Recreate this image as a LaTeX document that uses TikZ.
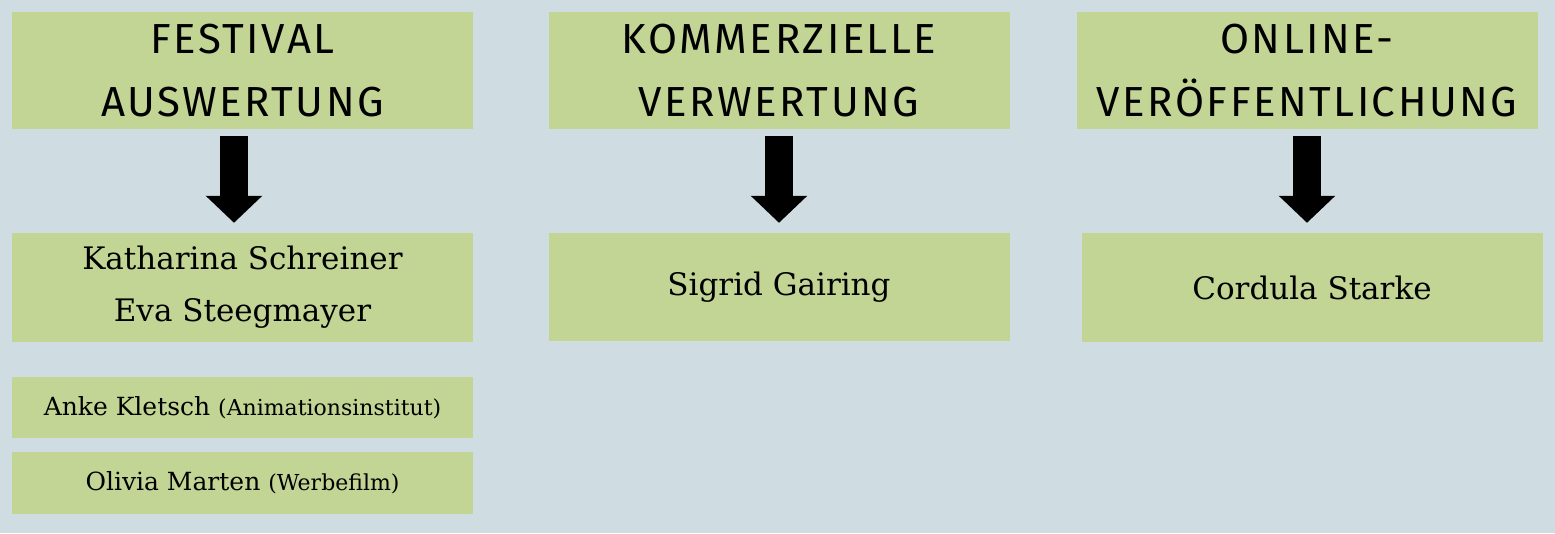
\documentclass[tikz,border=0pt]{standalone}
\usepackage{fontspec}
\setmainfont{DejaVu Serif}
\newfontfamily\headfont[LetterSpace=6]{Fira Sans}
\usetikzlibrary{arrows.meta}

\definecolor{backblue}{HTML}{CFDDE3}
\definecolor{boxgreen}{HTML}{C3D595}

\begin{document}
\begin{tikzpicture}[x=1pt,y=-1pt]

        \fill[backblue] (0,0) rectangle (1555,533);
        \useasboundingbox (0,0) rectangle (1555,533);

        \begin{scope}[every node/.style={fill=boxgreen,inner sep=0pt,align=center,minimum width=461pt}]
          \node[minimum height=117pt,font=\headfont\fontsize{42}{63}\selectfont] (fest)   at (242.5,70.5) {FESTIVAL\\AUSWERTUNG};
          \node[minimum height=117pt,font=\headfont\fontsize{42}{63}\selectfont] (komm)   at (779,70.5)   {KOMMERZIELLE\\VERWERTUNG};
          \node[minimum height=117pt,font=\headfont\fontsize{42}{63}\selectfont] (online) at (1307,70.5)  {ONLINE-\\VERÖFFENTLICHUNG};

          \node[minimum height=109pt,font=\fontsize{31}{52}\selectfont] (festnames)   at (242.5,287.5) {Katharina Schreiner\\Eva Steegmayer};
          \node[minimum height=108pt,font=\fontsize{31}{52}\selectfont] (kommnames)   at (779,287)     {Sigrid Gairing};
          \node[minimum height=109pt,font=\fontsize{31}{52}\selectfont] (onlinenames) at (1312,287.5)  {Cordula Starke};

          \node[minimum height=61pt,font=\fontsize{25}{30}\selectfont] (anke)   at (242.5,407.5) {Anke Kletsch {\fontsize{22}{26}\selectfont(Animationsinstitut)}};
          \node[minimum height=62pt,font=\fontsize{25}{30}\selectfont] (olivia) at (242.5,483)   {Olivia Marten {\fontsize{22}{26}\selectfont(Werbefilm)}};
        \end{scope}

        \begin{scope}[every path/.style={draw=black,line width=28pt,shorten <=7pt,shorten >=10pt,-{Triangle[width=55pt,length=27pt]}}]
          \path ([xshift=-8.5pt]fest.south) -- ([xshift=-8.5pt]festnames.north);
          \path (komm.south) -- (kommnames.north);
          \path (online.south) -- (online.south |- onlinenames.north);
        \end{scope}

      \end{tikzpicture}
\end{document}
